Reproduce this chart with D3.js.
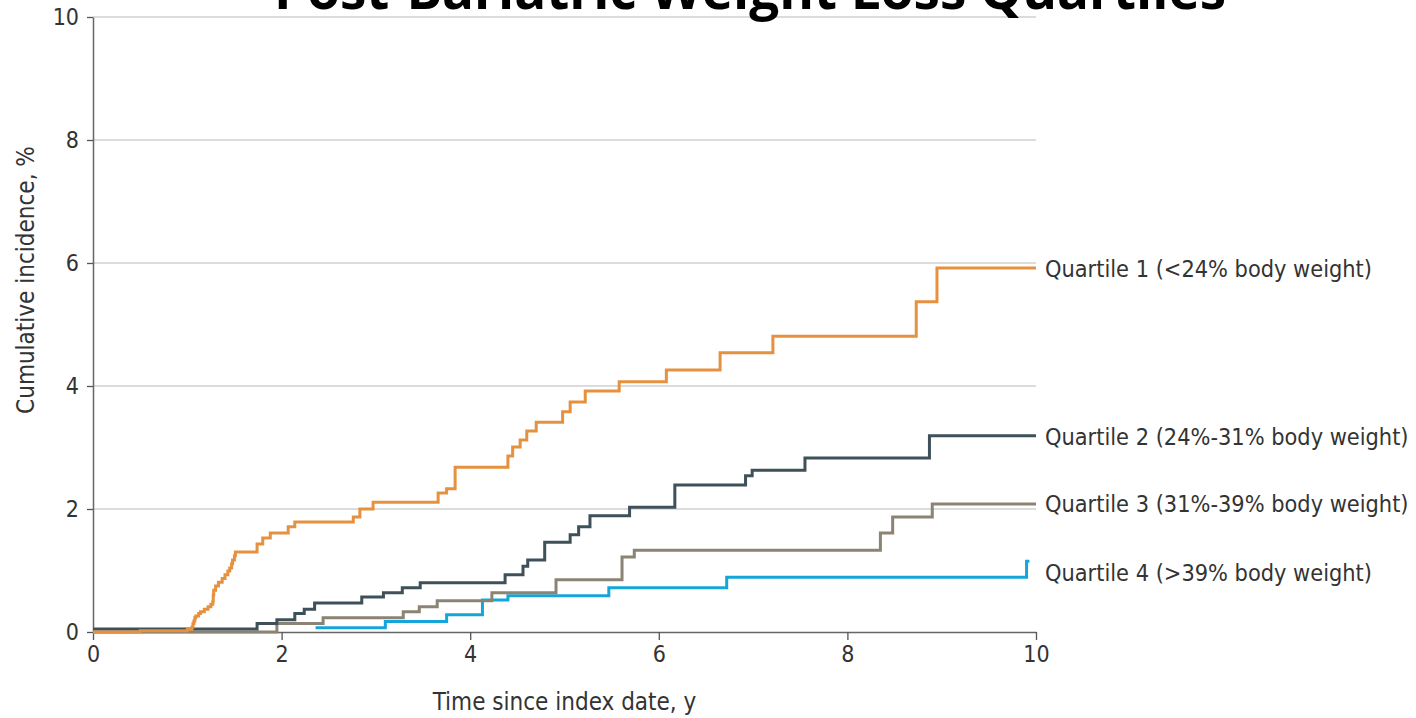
<!DOCTYPE html>
<html>
<head>
<meta charset="utf-8">
<script src="https://cdn.jsdelivr.net/npm/d3@7"></script>
<style>
  body { margin: 0; background: #fff; }
  svg { display: block; }
</style>
</head>
<body>
<div id="viz"></div>
<script>
// cumulative incidence (%) step events, [years, %]
let q1 = [[0, 0], [0.5, 0.02], [1.0, 0.04], [1.05, 0.08], [1.06, 0.14], [1.07, 0.18], [1.08, 0.23], [1.09, 0.26], [1.12, 0.30],
  [1.14, 0.33], [1.18, 0.37], [1.22, 0.41], [1.25, 0.45], [1.27, 0.49], [1.275, 0.60], [1.28, 0.68], [1.30, 0.75],
  [1.33, 0.81], [1.37, 0.87], [1.40, 0.93], [1.43, 0.99], [1.45, 1.04], [1.47, 1.11], [1.48, 1.17], [1.50, 1.24],
  [1.51, 1.30], [1.74, 1.43], [1.80, 1.53],
  [1.88, 1.61], [2.07, 1.71], [2.14, 1.79], [2.76, 1.87], [2.83, 2.00], [2.97, 2.11], [3.66, 2.26], [3.75, 2.33],
  [3.84, 2.68], [4.40, 2.86], [4.45, 3.01], [4.53, 3.12], [4.60, 3.27], [4.70, 3.41], [4.98, 3.58], [5.06, 3.74],
  [5.22, 3.92], [5.58, 4.07], [6.08, 4.26], [6.65, 4.54], [7.21, 4.81], [8.73, 5.37], [8.95, 5.92], [10, 5.92]];
let q2 = [[0, 0.05], [1.74, 0.14], [1.95, 0.20], [2.14, 0.30], [2.24, 0.37], [2.35, 0.47], [2.85, 0.57], [3.08, 0.64],
  [3.28, 0.72], [3.47, 0.80], [4.37, 0.93], [4.56, 1.07], [4.61, 1.17], [4.79, 1.46], [5.06, 1.58], [5.15, 1.71],
  [5.27, 1.89], [5.69, 2.03], [6.17, 2.39], [6.92, 2.54], [6.99, 2.63], [7.55, 2.83], [8.87, 3.19], [10, 3.19]];
let q3 = [[0, 0], [1.95, 0.14], [2.44, 0.23], [3.29, 0.33], [3.46, 0.41], [3.65, 0.51], [4.23, 0.64], [4.91, 0.85],
  [5.61, 1.22], [5.74, 1.33], [8.35, 1.61], [8.48, 1.87], [8.90, 2.08], [10, 2.08]];
let q4 = [[2.36, 0.07], [3.10, 0.17], [3.75, 0.28], [4.13, 0.52], [4.40, 0.59], [5.47, 0.72], [6.72, 0.89],
  [9.90, 1.15], [9.93, 1.15]];

let seriesNames = ["Quartile 1 (<24% body weight)", "Quartile 2 (24%-31% body weight)",
  "Quartile 3 (31%-39% body weight)", "Quartile 4 (>39% body weight)"];
let labelValues = [5.9, 3.18, 2.08, 0.97];
let colors = ["#e5913f", "#3e5059", "#8b8374", "#14a6da"];

let xTicks = [0, 2, 4, 6, 8, 10];
let yTicks = [0, 2, 4, 6, 8, 10];

let w = 1416;
let h = 718;
let padLeft = 93, padRight = 1036, padTop = 17, padBottom = 632;
let font = "'Liberation Sans Narrow', 'DejaVu Sans Condensed', 'Open Sans', sans-serif";

let viz = d3.select("#viz")
  .append("svg")
  .attr("width", w)
  .attr("height", h);

let xScale = d3.scaleLinear().domain([0, 10]).range([padLeft, padRight]);
let yScale = d3.scaleLinear().domain([0, 10]).range([padBottom, padTop]);

// gridlines
viz.append("g")
  .selectAll("line")
  .data(yTicks.filter(d => d > 0))
  .enter()
  .append("line")
  .attr("x1", padLeft)
  .attr("x2", padRight)
  .attr("y1", d => yScale(d))
  .attr("y2", d => yScale(d))
  .attr("stroke", "#dcdcdc")
  .attr("stroke-width", 2);

let xAxisGroup = viz.append("g")
  .attr("transform", "translate(0," + padBottom + ")")
  .call(d3.axisBottom(xScale).tickValues(xTicks).tickSize(8).tickPadding(6).tickSizeOuter(0));

let yAxisGroup = viz.append("g")
  .attr("transform", "translate(" + padLeft + ",0)")
  .call(d3.axisLeft(yScale).tickValues(yTicks).tickSize(6).tickPadding(8).tickSizeOuter(0));

[xAxisGroup, yAxisGroup].forEach(function (g) {
  g.select(".domain").attr("stroke", "#666").attr("stroke-width", 1.5);
  g.selectAll(".tick line").attr("stroke", "#555").attr("stroke-width", 1.3);
  g.selectAll("text")
    .attr("font-family", font)
    .attr("font-size", 23)
    .attr("fill", "#333");
});

let lineMaker = d3.line()
  .x(d => xScale(d[0]))
  .y(d => yScale(d[1]))
  .curve(d3.curveStepAfter);

let allSeries = [q1, q2, q3, q4];

// draw bottom quartiles first so Q1 sits on top
viz.append("g")
  .selectAll("path")
  .data(allSeries.map((d, i) => ({ pts: d, i: i })).reverse())
  .enter()
  .append("path")
  .attr("d", d => lineMaker(d.pts))
  .attr("fill", "none")
  .attr("stroke", d => colors[d.i])
  .attr("stroke-width", 3);

viz.append("g")
  .selectAll("text")
  .data(seriesNames)
  .enter()
  .append("text")
  .attr("x", padRight + 9)
  .attr("y", (d, i) => yScale(labelValues[i]))
  .attr("dy", "0.35em")
  .attr("font-family", font)
  .attr("font-size", 23.3)
  .attr("fill", "#333")
  .text(d => d);

viz.append("text")
  .attr("x", (padLeft + padRight) / 2)
  .attr("y", 710)
  .attr("text-anchor", "middle")
  .attr("font-family", font)
  .attr("font-size", 24)
  .attr("fill", "#333")
  .text("Time since index date, y");

viz.append("text")
  .attr("transform", "translate(34,280) rotate(-90)")
  .attr("text-anchor", "middle")
  .attr("font-family", font)
  .attr("font-size", 24)
  .attr("fill", "#333")
  .text("Cumulative incidence, %");

viz.append("text")
  .attr("x", 750)
  .attr("y", 9)
  .attr("text-anchor", "middle")
  .attr("font-family", "'Open Sans', 'Noto Sans', sans-serif")
  .attr("font-weight", "bold")
  .attr("font-size", 53)
  .attr("fill", "#000")
  .text("Post-Bariatric Weight Loss Quartiles");
</script>
</body>
</html>
